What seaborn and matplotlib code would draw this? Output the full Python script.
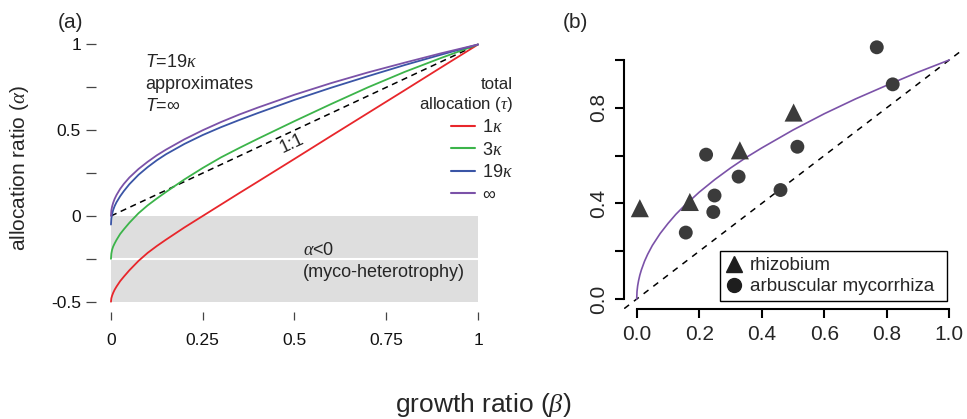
import matplotlib
matplotlib.use("Agg")
import matplotlib.pyplot as plt
import seaborn as sns
from matplotlib.lines import Line2D

# panel (a): allocation ratio curves
beta = [0, 0.001, 0.003, 0.006, 0.01, 0.015, 0.025, 0.035, 0.05, 0.075, 0.1, 0.125,
        0.15, 0.2, 0.25, 0.3, 0.35, 0.4, 0.5, 0.6, 0.7, 0.8, 0.9, 1.0]
alpha_1k = [-0.5, -0.48, -0.465, -0.448, -0.43, -0.412, -0.38, -0.354, -0.317, -0.262, -0.215, -0.175,
            -0.138, -0.067, 0.0, 0.067, 0.134, 0.2, 0.333, 0.467, 0.6, 0.733, 0.867, 1.0]
alpha_3k = [-0.25, -0.22, -0.197, -0.178, -0.16, -0.14, -0.105, -0.078, -0.04, 0.016, 0.062, 0.102,
            0.14, 0.213, 0.28, 0.342, 0.397, 0.45, 0.553, 0.653, 0.75, 0.84, 0.922, 1.0]
alpha_19k = [-0.05, -0.015, 0.01, 0.035, 0.058, 0.08, 0.115, 0.145, 0.185, 0.24, 0.285, 0.325,
             0.36, 0.42, 0.472, 0.518, 0.56, 0.6, 0.677, 0.748, 0.815, 0.88, 0.941, 1.0]
alpha_inf = [0, 0.032, 0.055, 0.077, 0.1, 0.122, 0.158, 0.187, 0.224, 0.274, 0.316, 0.354,
             0.387, 0.447, 0.5, 0.548, 0.592, 0.632, 0.707, 0.775, 0.837, 0.894, 0.949, 1.0]
curve_labels = ["1$\\kappa$", "3$\\kappa$", "19$\\kappa$", "\u221e"]
curve_colors = ["#e8262b", "#3cb44a", "#3a55a6", "#7b52a8"]

# panel (b): observed ratios
rhizo_beta = [0.01, 0.17, 0.33, 0.502]
rhizo_alpha = [0.38, 0.406, 0.622, 0.78]
am_beta = [0.157, 0.222, 0.245, 0.249, 0.326, 0.46, 0.514, 0.768, 0.819]
am_alpha = [0.278, 0.604, 0.364, 0.433, 0.512, 0.456, 0.637, 1.053, 0.898]

sns.set_theme(style="white")
plt.rcParams["font.family"] = ["Liberation Sans", "DejaVu Sans"]
plt.rcParams["mathtext.fontset"] = "custom"
plt.rcParams["mathtext.rm"] = "Liberation Sans"
plt.rcParams["mathtext.it"] = "Liberation Serif:italic"
plt.rcParams["mathtext.sf"] = "Liberation Sans:italic"

W, H = 967, 419
fig = plt.figure(figsize=(W / 100, H / 100), dpi=100)
ax_a = fig.add_axes([96.3 / W, 1 - 312 / H, 396.4 / W, 277.8 / H])
ax_b = fig.add_axes([624.2 / W, 1 - 308.6 / H, 337.6 / W, 258.2 / H])

# ---- panel (a)
ax_a.fill_between([0, 1], -0.5, 0, color="#dedede", lw=0, zorder=0)
ax_a.plot([0, 1], [-0.25, -0.25], color="white", lw=1.5, zorder=0.5)
ax_a.plot([0, 1], [0, 1], color="black", lw=1.1, ls=(0, (4, 3)), zorder=1)
for ys, col in zip([alpha_1k, alpha_3k, alpha_19k, alpha_inf], curve_colors):
    sns.lineplot(x=beta, y=ys, ax=ax_a, color=col, lw=1.3, zorder=2)

ax_a.set_xlim(-0.04, 1.04)
ax_a.set_ylim(-0.56, 1.06)
for s in ax_a.spines.values():
    s.set_visible(False)
ax_a.set_xticks([0, 0.25, 0.5, 0.75, 1])
ax_a.set_xticklabels(["0", "0.25", "0.5", "0.75", "1"], fontsize=12.5)
ax_a.set_yticks([-0.5, -0.25, 0, 0.25, 0.5, 0.75, 1])
ax_a.set_yticklabels(["-0.5", "", "0", "", "0.5", "", "1"], fontsize=12.5)
ax_a.tick_params(axis="x", bottom=True, length=6, width=0.9, color="#444444", pad=9, labelcolor="#111111")
ax_a.tick_params(axis="y", left=True, length=7, width=0.9, color="#444444", pad=4, labelcolor="#111111")

ax_a.text(0.093, 0.871, "$\\mathsf{T}$=19$\\kappa$", fontsize=13, va="baseline")
ax_a.text(0.093, 0.741, "approximates", fontsize=13, va="baseline")
ax_a.text(0.093, 0.61, "$\\mathsf{T}$=\u221e", fontsize=13, va="baseline")
ax_a.text(0.492, 0.423, "1:1", fontsize=13, rotation=25, ha="center", va="center")
ax_a.text(0.523, -0.227, "$\\alpha$<0", fontsize=13, va="baseline")
ax_a.text(0.523, -0.354, "(myco-heterotrophy)", fontsize=13, va="baseline")

handles = [Line2D([0], [0], color=c, lw=1.5) for c in curve_colors]
leg = ax_a.legend(handles, curve_labels, title="total\nallocation ($\\tau$)",
                  frameon=False, loc="upper right", bbox_to_anchor=(513 / W, 1 - 77 / H),
                  bbox_transform=fig.transFigure, alignment="right", handlelength=1.3,
                  handletextpad=0.4, labelspacing=0.3, borderpad=0, borderaxespad=0,
                  fontsize=13, title_fontsize=12.2)
leg.get_title().set_multialignment("right")

# ---- panel (b)
ax_b.axline((0, 0), (1, 1), color="black", lw=1.1, ls=(0, (4, 4)), zorder=1)
sns.lineplot(x=beta, y=alpha_inf, ax=ax_b, color=curve_colors[3], lw=1.2, zorder=2)
sns.scatterplot(x=rhizo_beta, y=rhizo_alpha, ax=ax_b, marker="^", s=170, color="#3b3b3b",
                edgecolor="none", zorder=3, clip_on=False)
sns.scatterplot(x=am_beta, y=am_alpha, ax=ax_b, marker="o", s=100, color="#3b3b3b",
                edgecolor="none", zorder=3, clip_on=False)
ax_b.set_xlim(-0.04, 1.04)
ax_b.set_ylim(-0.04, 1.04)
ax_b.spines["top"].set_visible(False)
ax_b.spines["right"].set_visible(False)
for side in ["left", "bottom"]:
    ax_b.spines[side].set_bounds(0, 1)
    ax_b.spines[side].set_linewidth(1.5)
    ax_b.spines[side].set_color("black")
ax_b.set_xticks([0, 0.2, 0.4, 0.6, 0.8, 1.0])
ax_b.set_xticklabels(["0.0", "0.2", "0.4", "0.6", "0.8", "1.0"], fontsize=15)
ax_b.set_yticks([0, 0.2, 0.4, 0.6, 0.8, 1.0])
ax_b.set_yticklabels(["0.0", "", "0.4", "", "0.8", ""], fontsize=15, rotation=90, va="center")
ax_b.tick_params(axis="both", bottom=True, left=True, length=6.5, width=1.5, color="black", pad=5)

leg_handles = [Line2D([0], [0], marker="^", color="#1e1e1e", ls="none", markersize=12),
               Line2D([0], [0], marker="o", color="#1e1e1e", ls="none", markersize=10)]
leg_b = ax_b.legend(leg_handles, ["rhizobium", "arbuscular mycorrhiza"], loc="lower left",
                    bbox_to_anchor=(0.284, 0.029, 0.672, 0.19), mode="expand", borderaxespad=0,
                    fontsize=13.5, fancybox=False, edgecolor="black", framealpha=1,
                    handlelength=0.9, handletextpad=0.4, labelspacing=0.22, borderpad=0.3)
leg_b.get_frame().set_linewidth(1.0)

# ---- panel labels and shared axis titles
fig.text(70.5 / W, 1 - 22.5 / H, "(a)", fontsize=15, ha="center", va="center")
fig.text(575.5 / W, 1 - 22.5 / H, "(b)", fontsize=15, ha="center", va="center")
fig.text(20 / W, 1 - 168 / H, "allocation ratio ($\\alpha$)", fontsize=15, rotation=90,
         ha="center", va="center")
fig.text(483 / W, 1 - 405 / H, "growth ratio ($\\beta$)", fontsize=19, ha="center", va="center")

fig.savefig("out.png", dpi=100)
